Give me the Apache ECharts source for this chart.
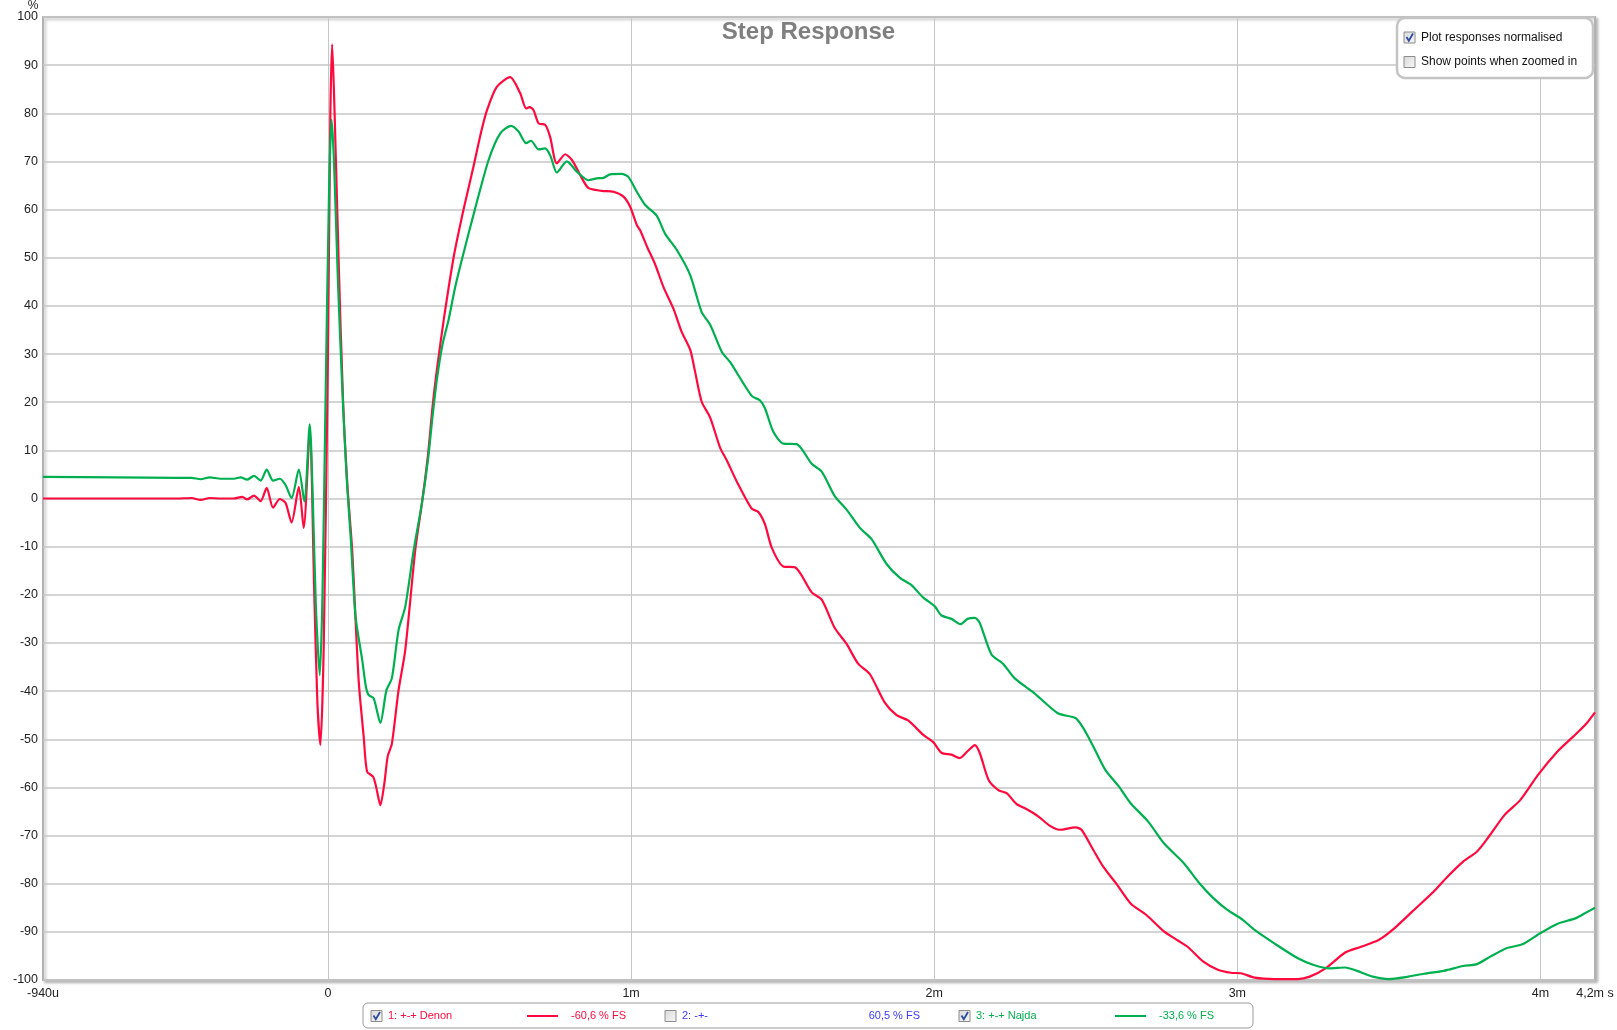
<!DOCTYPE html>
<html>
<head>
<meta charset="utf-8">
<script src="https://cdn.jsdelivr.net/npm/echarts@6/dist/echarts.min.js"></script>
<style>
html,body{margin:0;padding:0;background:#fff;}
#chart{width:1617px;height:1030px;}
</style>
</head>
<body>
<div id="chart"></div>
<script>
// ---- data (time in ms, value in %) ----
var chartTitle = 'Step Response';
var xMin = -0.94, xMax = 4.18;
var xLabelValues = [-0.94, 0, 1, 2, 3, 4, 4.18];
var xGridValues = [0, 1, 2, 3, 4];
var yMin = -100, yMax = 100, yStep = 10;

var denonPoints = [
[-0.94,0],[-0.80,0],[-0.60,0],[-0.50,0],[-0.45,0.1],[-0.42,-0.3],[-0.39,0.1],[-0.354,0],
[-0.31,0],[-0.283,0.35],[-0.267,-0.2],[-0.244,0.6],[-0.222,-0.55],[-0.202,2.2],[-0.181,-1.9],
[-0.159,-0.1],[-0.140,-0.9],[-0.120,-5.0],[-0.096,2.4],[-0.080,-6.1],[-0.060,14],[-0.045,-20],
[-0.035,-42],[-0.025,-51.2],[-0.014,-31],[0.0,30],[0.008,80],[0.014,94.3],[0.022,80],[0.035,50],
[0.050,20],[0.065,2],[0.080,-10.7],[0.091,-25],[0.102,-38.4],[0.118,-49.5],[0.129,-56.7],
[0.149,-57.8],[0.159,-59.9],[0.173,-63.7],[0.186,-59.2],[0.197,-53.6],[0.211,-50.9],[0.233,-39.8],
[0.255,-31.5],[0.288,-10.7],[0.31,-1],[0.33,9],[0.345,19],[0.36,27],[0.382,37.1],[0.415,50.2],
[0.447,59.9],[0.480,68.9],[0.505,76],[0.525,80.7],[0.557,85.5],[0.601,87.5],[0.634,84.2],
[0.654,81.0],[0.665,81.3],[0.678,80.7],[0.695,77.9],[0.717,77.6],[0.733,75.1],[0.755,69.6],
[0.783,71.5],[0.805,70.3],[0.832,67.2],[0.859,64.5],[0.903,63.9],[0.942,63.7],[0.975,62.7],
[0.997,60.6],[1.019,56.8],[1.030,55.7],[1.052,52.4],[1.079,48.7],[1.107,43.9],[1.140,39.4],
[1.167,34.6],[1.195,30.9],[1.211,26.4],[1.233,20.1],[1.261,16.8],[1.294,10.5],[1.316,7.9],
[1.349,3.5],[1.398,-2.1],[1.420,-2.8],[1.442,-5.4],[1.464,-10.2],[1.502,-14.1],[1.541,-14.3],
[1.596,-19.5],[1.629,-21.0],[1.672,-26.9],[1.711,-30.2],[1.749,-34.3],[1.788,-36.5],[1.837,-42.4],
[1.876,-45.0],[1.914,-46.1],[1.964,-49.1],[1.997,-50.6],[2.024,-52.8],[2.057,-53.2],[2.084,-53.9],
[2.110,-52.5],[2.134,-51.2],[2.150,-52.8],[2.180,-58.5],[2.213,-60.6],[2.239,-61.2],[2.271,-63.4],
[2.304,-64.5],[2.343,-66.0],[2.382,-68.0],[2.414,-68.8],[2.466,-68.3],[2.486,-68.8],[2.525,-73.0],
[2.557,-76.4],[2.603,-80.2],[2.648,-84.1],[2.700,-86.5],[2.758,-89.9],[2.804,-91.8],[2.836,-93.1],
[2.888,-96.2],[2.934,-97.8],[2.979,-98.5],[3.012,-98.6],[3.057,-99.5],[3.122,-99.8],[3.200,-99.8],
[3.239,-99.3],[3.291,-97.6],[3.356,-94.3],[3.408,-93.1],[3.466,-91.7],[3.512,-89.6],[3.577,-85.8],
[3.642,-82.0],[3.694,-78.5],[3.745,-75.4],[3.791,-73.3],[3.830,-70.2],[3.882,-65.7],[3.934,-62.6],
[3.992,-57.4],[4.057,-52.5],[4.109,-49.4],[4.148,-47.0],[4.18,-44.4]
];

var najdaPoints = [
[-0.94,4.5],[-0.70,4.4],[-0.50,4.3],[-0.45,4.3],[-0.42,4.0],[-0.39,4.4],[-0.354,4.1],[-0.31,4.1],
[-0.288,4.4],[-0.267,3.9],[-0.244,4.7],[-0.222,3.7],[-0.202,6.0],[-0.181,3.7],[-0.159,4.1],
[-0.140,2.8],[-0.120,0.1],[-0.096,6.0],[-0.078,-0.6],[-0.060,15.4],[-0.050,0],[-0.040,-22],
[-0.027,-36.7],[-0.018,-20],[-0.008,20],[0.004,65],[0.012,78.7],[0.020,70],[0.033,45],[0.048,22],
[0.062,4],[0.075,-8],[0.091,-24.5],[0.113,-33.5],[0.125,-39],[0.134,-40.8],[0.151,-41.5],
[0.173,-46.6],[0.193,-39.8],[0.211,-37.3],[0.233,-27.3],[0.255,-22.5],[0.283,-10.7],[0.31,-1],
[0.33,8],[0.345,17],[0.36,25],[0.378,32],[0.398,37.1],[0.420,44],[0.447,50.9],[0.486,60.3],
[0.530,70.3],[0.568,75.8],[0.604,77.4],[0.629,76.2],[0.654,73.8],[0.670,74.3],[0.695,72.5],
[0.717,72.7],[0.735,71.0],[0.755,67.7],[0.788,70.0],[0.821,67.9],[0.859,66.1],[0.887,66.5],
[0.909,66.6],[0.931,67.3],[0.969,67.4],[0.991,66.8],[1.019,63.7],[1.046,61.0],[1.085,58.7],
[1.112,55.0],[1.151,51.6],[1.195,46.4],[1.233,38.7],[1.261,36.1],[1.299,30.5],[1.327,28.3],
[1.398,21.3],[1.425,20.4],[1.442,18.7],[1.469,13.9],[1.502,11.4],[1.546,11.3],[1.596,7.2],
[1.629,5.6],[1.672,0.5],[1.711,-2.3],[1.755,-6.1],[1.793,-8.4],[1.843,-13.6],[1.887,-16.5],
[1.925,-18.0],[1.964,-20.6],[2.002,-22.4],[2.024,-24.3],[2.057,-25.0],[2.087,-26.1],[2.110,-25.0],
[2.134,-24.8],[2.150,-25.8],[2.189,-32.4],[2.227,-34.3],[2.265,-37.3],[2.330,-40.4],[2.408,-44.6],
[2.466,-45.6],[2.492,-47.7],[2.525,-51.5],[2.564,-56.3],[2.609,-59.8],[2.648,-63.3],[2.706,-67.1],
[2.758,-71.6],[2.823,-75.7],[2.875,-79.9],[2.921,-83.0],[2.966,-85.4],[3.018,-87.5],[3.057,-89.6],
[3.122,-92.4],[3.200,-95.5],[3.252,-96.9],[3.304,-97.6],[3.356,-97.4],[3.395,-98.1],[3.447,-99.3],
[3.499,-99.8],[3.564,-99.3],[3.616,-98.7],[3.681,-98.1],[3.745,-97.1],[3.791,-96.7],[3.836,-95.1],
[3.888,-93.4],[3.940,-92.6],[3.999,-90.3],[4.057,-88.3],[4.115,-87.2],[4.148,-86.1],[4.18,-85.0]
];

var legendEntries = [
  {label:'1: +-+ Denon', value:'-60,6 % FS', color:'#ff0a3f', checked:true, line:true},
  {label:'2: -+-', value:'60,5 % FS', color:'#3a3aff', checked:false, line:false},
  {label:'3: +-+ Najda', value:'-33,6 % FS', color:'#00b050', checked:true, line:true}
];
var panelOptions = [
  {label:'Plot responses normalised', checked:true},
  {label:'Show points when zoomed in', checked:false}
];

// ---- rendering ----
var FONT = "'Liberation Sans', Arial, sans-serif";
var chart = echarts.init(document.getElementById('chart'), null, {renderer:'canvas'});

function xLabel(v){
  if (Math.abs(v - xMin) < 1e-6) return '-940u';
  if (Math.abs(v - xMax) < 1e-6) return '4,2m s';
  if (v === 0) return '0';
  return v + 'm';
}

function checkbox(x, y, checked){
  var els = [{
    type:'rect', shape:{x:x, y:y, width:11, height:11},
    style:{fill:new echarts.graphic.LinearGradient(0,0,1,1,[{offset:0,color:'#d8d8d8'},{offset:1,color:'#f8f8f8'}]), stroke:'#8c8c8c', lineWidth:1},
    z:100
  }];
  if (checked){
    els.push({type:'polyline', shape:{points:[[x+2.5,y+5],[x+4.8,y+8.8],[x+9,y+1.5]]},
      style:{stroke:'#2c4aa0', lineWidth:1.8, fill:null}, z:101});
  }
  return els;
}

var graphics = [];
graphics.push({type:'text', x:33, y:6, style:{text:'%', font:'12px '+FONT, fill:'#222', align:'center', verticalAlign:'middle'}, z:100});
graphics.push({type:'rect', shape:{x:1397, y:18, width:196, height:60, r:8},
  style:{fill:'#fff', stroke:'#c4c4c4', lineWidth:2.5}, z:99});
panelOptions.forEach(function(o, i){
  var cy = 37.5 + i*24.5;
  graphics = graphics.concat(checkbox(1404, cy-5.5, o.checked));
  graphics.push({type:'text', x:1421, y:cy, style:{text:o.label, font:'12px '+FONT, fill:'#111', verticalAlign:'middle'}, z:100});
});
graphics.push({type:'rect', shape:{x:363, y:1003, width:890, height:25, r:5},
  style:{fill:'#fff', stroke:'#9a9a9a', lineWidth:1}, z:99});
var legendX = [371, 665, 959];
legendEntries.forEach(function(e, i){
  var bx = legendX[i], cy = 1016;
  graphics = graphics.concat(checkbox(bx, cy-5.5, e.checked));
  graphics.push({type:'text', x:bx+17, y:cy, style:{text:e.label, font:'11px '+FONT, fill:e.color, verticalAlign:'middle'}, z:100});
  if (e.line){
    graphics.push({type:'line', shape:{x1:bx+156, y1:cy, x2:bx+187, y2:cy}, style:{stroke:e.color, lineWidth:2}, z:100});
  }
  graphics.push({type:'text', x:bx+255, y:cy, style:{text:e.value, font:'11px '+FONT, fill:e.color, verticalAlign:'middle', align:'right'}, z:100});
});

var option = {
  backgroundColor:'#fff',
  animation:false,
  title:{text:chartTitle, left:'center', top:15,
    textStyle:{fontFamily:FONT, fontSize:24, fontWeight:'bold', color:'#7f7f7f'}},
  grid:{left:43, top:17, right:22, bottom:50, show:true, backgroundColor:'#fff',
    borderColor:'#b2b2b2', borderWidth:2,
    shadowColor:'rgba(0,0,0,0.25)', shadowBlur:3, shadowOffsetX:2, shadowOffsetY:2},
  xAxis:{type:'value', min:xMin, max:xMax,
    axisLine:{show:false},
    axisTick:{show:true, length:0, customValues:xGridValues},
    axisLabel:{customValues:xLabelValues, formatter:xLabel, fontFamily:FONT, fontSize:12.5, color:'#222', margin:7},
    splitLine:{show:true, lineStyle:{color:'#c6c6c6', width:1}}},
  yAxis:{type:'value', min:yMin, max:yMax, interval:yStep,
    axisLine:{show:false}, axisTick:{show:false},
    axisLabel:{fontFamily:FONT, fontSize:12.5, color:'#222', margin:5},
    splitLine:{show:true, lineStyle:{color:'#c6c6c6', width:1.5}}},
  series:[
    {name:'Denon', type:'line', data:denonPoints, showSymbol:false, smooth:0.25,
      lineStyle:{color:legendEntries[0].color, width:2.2}, z:3},
    {name:'Najda', type:'line', data:najdaPoints, showSymbol:false, smooth:0.25,
      lineStyle:{color:legendEntries[2].color, width:2.2}, z:4}
  ],
  graphic:graphics
};
chart.setOption(option);
</script>
</body>
</html>
